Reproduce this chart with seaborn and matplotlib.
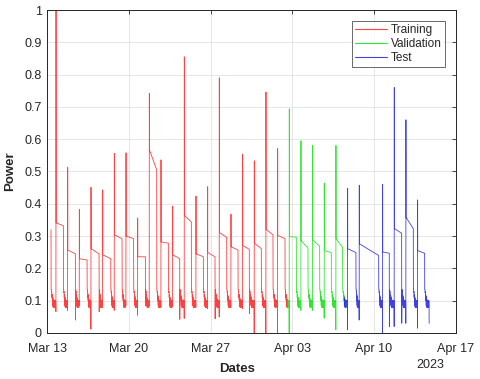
import numpy as np
import pandas as pd
import matplotlib
matplotlib.use("Agg")
import matplotlib.pyplot as plt
import seaborn as sns

# ================== CONFIG ==================
sns.set_theme(style="whitegrid")
plt.rcParams["font.family"] = ["Liberation Sans", "DejaVu Sans"]

# ================== DATA ==================
t0 = pd.Timestamp("2023-03-13")
spike_hour = 18                       # every spike comes at ~18:00
first_day, first_peak = 0.32, 0.32    # short spike where the record starts

# day of each daily spike (no spike on Apr 09)
cycle_day = [0, 1, 2, 3, 4, 5, 6, 7, 8, 9, 10, 11, 12, 13, 14, 15, 16, 17, 18, 19,
             20, 21, 22, 23, 24, 25, 26, 28, 29, 30, 31]
peak = [1.0, 0.513, 0.383, 0.451, 0.443, 0.556, 0.558, 0.356, 0.742, 0.536,
        0.393, 0.855, 0.424, 0.453, 0.79, 0.368, 0.554, 0.533, 0.746, 0.571,
        0.694, 0.595, 0.581, 0.463, 0.581, 0.448, 0.457, 0.46, 0.76, 0.66, 0.412]
plateau_start = [0.341, 0.257, 0.23, 0.261, 0.242, 0.304, 0.30, 0.236, 0.567, 0.282,
                 0.242, 0.364, 0.245, 0.249, 0.311, 0.267, 0.271, 0.278, 0.321, 0.302,
                 0.298, 0.286, 0.288, 0.255, 0.292, 0.261, 0.276, 0.251, 0.323, 0.358, 0.255]
plateau_end = [0.332, 0.245, 0.226, 0.245, 0.23, 0.292, 0.292, 0.236, 0.505, 0.278,
               0.23, 0.344, 0.236, 0.236, 0.296, 0.257, 0.259, 0.261, 0.304, 0.292,
               0.297, 0.263, 0.269, 0.249, 0.265, 0.249, 0.24, 0.247, 0.309, 0.323, 0.247]
plateau_len = [0.63, 0.66, 0.66, 0.69, 0.69, 0.66, 0.65, 0.66, 0.63, 0.63,
               0.60, 0.60, 0.63, 0.63, 0.63, 0.60, 0.57, 0.60, 0.60, 0.63,
               0.60, 0.60, 0.60, 0.60, 0.57, 0.71, 1.66, 0.57, 0.63, 0.63, 0.60]
drop_to = [0.135, 0.04, 0.135, 0.066, 0.135, 0.135, 0.135, 0.085, 0.135, 0.135,
           0.042, 0.135, 0.135, 0.044, 0.135, 0.135, 0.06, 0.135, 0.135, 0.135,
           0.135, 0.135, 0.135, 0.135, 0.135, 0.135, 0.135, 0.02, 0.03, 0.135, 0.135]
dip_before = [0.066, 0.07, 0.085, 0.012, 0.08, 0.07, 0.085, 0.055, 0.085, 0.08,
              0.085, 0.045, 0.08, 0.075, 0.05, 0.08, 0.075, 0.0, 0.0, 0.0,
              0.0, 0.07, 0.07, 0.046, 0.01, 0.01, 0.04, 0.0, 0.02, 0.03, 0.015]
# jagged low stretch between the plateau drop and the next spike
low_shape = [0.135, 0.125, 0.128, 0.11, 0.12, 0.1, 0.115, 0.085, 0.11, 0.08,
             0.105, 0.085, 0.1, 0.078, 0.102, 0.082, 0.098, 0.08, 0.1, 0.085,
             0.097, 0.08, 0.1, 0.09]
last_low_days, end_dip = 0.38, 0.03

val_start = pd.Timestamp("2023-04-02 14:30")
test_start = pd.Timestamp("2023-04-07 11:45")

# ================== SERIE ==================
pts = [(first_day, first_peak)]
prev_end, prev_drop = first_day + 0.01, 0.135
for i, day in enumerate(cycle_day):
    t = day + spike_hour / 24
    pts.append((prev_end, prev_drop))
    for tt, vv in zip(np.linspace(prev_end + 0.02, t - 0.02, len(low_shape)), low_shape):
        pts.append((tt, vv))
    pts += [(t - 0.01, dip_before[i]), (t, peak[i]), (t + 0.01, plateau_start[i]),
            (t + plateau_len[i], plateau_end[i])]
    prev_end, prev_drop = t + plateau_len[i] + 0.01, drop_to[i]
pts.append((prev_end, prev_drop))
end = prev_end + last_low_days
for tt, vv in zip(np.linspace(prev_end + 0.02, end - 0.01, len(low_shape)), low_shape):
    pts.append((tt, vv))
pts.append((end, end_dip))

df = pd.DataFrame(pts, columns=["day", "Power"])
df["Dates"] = t0 + pd.to_timedelta(df["day"], unit="D")

tr = df[df["Dates"] < val_start].assign(Set="Training")
va = df[(df["Dates"] >= val_start) & (df["Dates"] < test_start)].assign(Set="Validation")
te = df[df["Dates"] >= test_start].assign(Set="Test")
va = pd.concat([tr.tail(1).assign(Set="Validation"), va])
te = pd.concat([va.tail(1).assign(Set="Test"), te])
data = pd.concat([tr, va, te], ignore_index=True)

# ================== PLOT ==================
fig = plt.figure(figsize=(4.8, 3.79), dpi=100)
ax = fig.add_axes([0.0985, 0.1214, 0.8505, 0.8522])
pal = {"Training": "#ff2020", "Validation": "#10e010", "Test": "#2020e0"}
sns.lineplot(data=data, x="Dates", y="Power", hue="Set", palette=pal, estimator=None,
             sort=False, linewidth=0.6, alpha=0.85, ax=ax)

ax.set_xlim(t0, pd.Timestamp("2023-04-17"))
ax.set_ylim(0, 1)
ax.set_yticks(np.arange(0, 1.01, 0.1))
ax.yaxis.set_major_formatter(plt.FuncFormatter(lambda v, p: f"{v:g}"))
xt = pd.date_range("2023-03-13", "2023-04-17", freq="7D")
ax.set_xticks(xt)
ax.set_xticklabels([d.strftime("%b %d") for d in xt])

ax.grid(True, color="#e2e2e2", linewidth=0.6)
for s in ax.spines.values():
    s.set_color("#262626"); s.set_linewidth(0.7)
ax.tick_params(direction="in", length=3, width=0.6, color="#262626", labelsize=9,
               labelcolor="#262626", top=True, right=True, pad=4)
ax.tick_params(axis="x", pad=7)

ax.set_xlabel("Dates", fontsize=9.5, fontweight="bold")
ax.set_ylabel("Power", fontsize=9.5, fontweight="bold")
ax.xaxis.set_label_coords(0.465, -0.094)
ax.yaxis.set_label_coords(-0.077, 0.5)
fig.text(430 / 480, 1 - 365 / 379, "2023", fontsize=9, color="#262626", ha="center", va="center")

h, l = ax.get_legend_handles_labels()
leg = ax.legend(h, l, loc="upper right", fontsize=8.5, handlelength=2.7, fancybox=False,
                frameon=True, borderaxespad=0.9, labelspacing=0.15, borderpad=0.3,
                handletextpad=0.3)
leg.get_frame().set_edgecolor("#262626")
leg.get_frame().set_linewidth(0.6)
for line in leg.get_lines():
    line.set_linewidth(0.8)

fig.savefig("out.png", dpi=100)
